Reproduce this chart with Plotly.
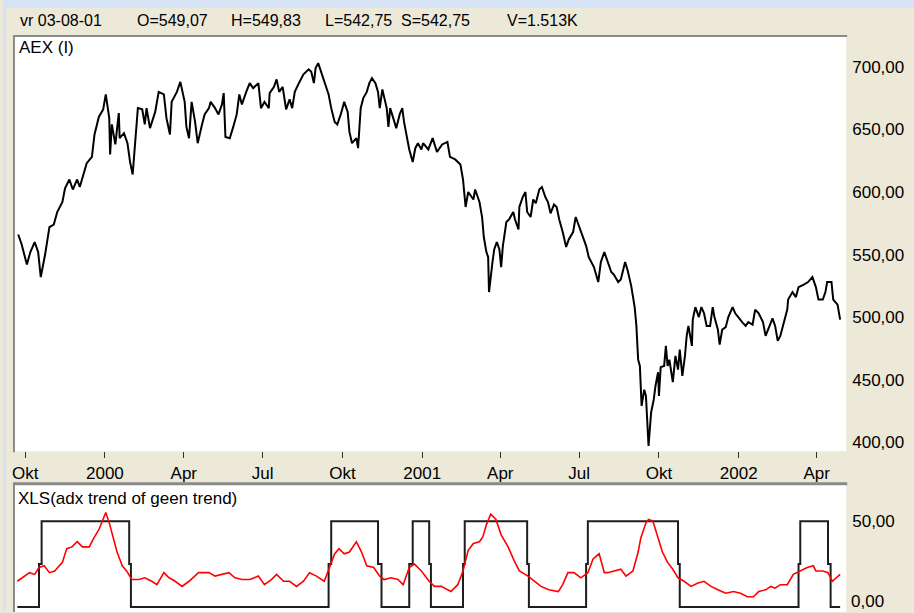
import plotly.graph_objects as go

# ---------------- data ----------------
aex_dates = [
    "1999-09-23", "1999-09-27", "1999-10-03", "1999-10-07", "1999-10-12", "1999-10-16", "1999-10-19",
    "1999-10-24", "1999-10-29", "1999-11-03", "1999-11-07", "1999-11-13", "1999-11-16", "1999-11-21",
    "1999-11-25", "1999-11-30", "1999-12-03", "1999-12-08", "1999-12-11", "1999-12-17", "1999-12-20",
    "1999-12-25", "1999-12-30", "2000-01-02", "2000-01-06", "2000-01-07", "2000-01-09", "2000-01-13",
    "2000-01-17", "2000-01-18", "2000-01-23", "2000-01-27", "2000-01-30", "2000-02-02", "2000-02-05",
    "2000-02-08", "2000-02-13", "2000-02-16", "2000-02-18", "2000-02-22", "2000-02-28", "2000-03-03",
    "2000-03-09", "2000-03-12", "2000-03-16", "2000-03-18", "2000-03-24", "2000-03-28", "2000-04-02",
    "2000-04-04", "2000-04-07", "2000-04-10", "2000-04-14", "2000-04-17", "2000-04-22", "2000-04-25",
    "2000-04-30", "2000-05-02", "2000-05-07", "2000-05-11", "2000-05-15", "2000-05-17", "2000-05-19",
    "2000-05-24", "2000-05-28", "2000-06-01", "2000-06-04", "2000-06-07", "2000-06-12", "2000-06-16",
    "2000-06-20", "2000-06-26", "2000-06-29", "2000-07-03", "2000-07-08", "2000-07-09", "2000-07-14",
    "2000-07-17", "2000-07-20", "2000-07-24", "2000-07-28", "2000-08-01", "2000-08-04", "2000-08-07",
    "2000-08-11", "2000-08-17", "2000-08-23", "2000-08-26", "2000-08-29", "2000-08-31", "2000-09-03",
    "2000-09-07", "2000-09-10", "2000-09-15", "2000-09-18", "2000-09-22", "2000-09-25", "2000-09-29",
    "2000-10-03", "2000-10-07", "2000-10-09", "2000-10-12", "2000-10-17", "2000-10-19", "2000-10-22",
    "2000-10-25", "2000-10-29", "2000-11-01", "2000-11-04", "2000-11-08", "2000-11-11", "2000-11-13",
    "2000-11-16", "2000-11-21", "2000-11-23", "2000-11-25", "2000-11-29", "2000-12-02", "2000-12-06",
    "2000-12-09", "2000-12-11", "2000-12-15", "2000-12-17", "2000-12-21", "2000-12-24", "2000-12-27",
    "2000-12-31", "2001-01-02", "2001-01-08", "2001-01-13", "2001-01-18", "2001-01-24", "2001-01-30",
    "2001-02-02", "2001-02-08", "2001-02-14", "2001-02-17", "2001-02-20", "2001-02-23", "2001-03-01",
    "2001-03-03", "2001-03-08", "2001-03-11", "2001-03-13", "2001-03-16", "2001-03-18", "2001-03-19",
    "2001-03-23", "2001-03-25", "2001-03-28", "2001-03-31", "2001-04-02", "2001-04-04", "2001-04-08",
    "2001-04-11", "2001-04-16", "2001-04-18", "2001-04-22", "2001-04-23", "2001-04-27", "2001-04-30",
    "2001-05-02", "2001-05-06", "2001-05-09", "2001-05-12", "2001-05-16", "2001-05-19", "2001-05-23",
    "2001-05-26", "2001-05-29", "2001-06-02", "2001-06-05", "2001-06-08", "2001-06-12", "2001-06-16",
    "2001-06-19", "2001-06-24", "2001-06-27", "2001-07-01", "2001-07-05", "2001-07-09", "2001-07-12",
    "2001-07-18", "2001-07-23", "2001-07-26", "2001-07-30", "2001-08-03", "2001-08-07", "2001-08-10",
    "2001-08-15", "2001-08-18", "2001-08-23", "2001-08-26", "2001-08-30", "2001-09-03", "2001-09-05",
    "2001-09-07", "2001-09-09", "2001-09-11", "2001-09-14", "2001-09-16", "2001-09-17", "2001-09-19",
    "2001-09-22", "2001-09-25", "2001-09-27", "2001-09-30", "2001-10-01", "2001-10-03", "2001-10-07",
    "2001-10-09", "2001-10-11", "2001-10-13", "2001-10-17", "2001-10-20", "2001-10-23", "2001-10-25",
    "2001-10-28", "2001-10-31", "2001-11-02", "2001-11-04", "2001-11-08", "2001-11-09", "2001-11-12",
    "2001-11-16", "2001-11-19", "2001-11-22", "2001-11-25", "2001-11-29", "2001-12-02", "2001-12-04",
    "2001-12-08", "2001-12-10", "2001-12-13", "2001-12-17", "2001-12-20", "2001-12-25", "2001-12-28",
    "2002-01-01", "2002-01-05", "2002-01-09", "2002-01-12", "2002-01-17", "2002-01-20", "2002-01-24",
    "2002-01-29", "2002-02-01", "2002-02-04", "2002-02-09", "2002-02-12", "2002-02-15", "2002-02-18",
    "2002-02-22", "2002-02-26", "2002-02-27", "2002-03-04", "2002-03-08", "2002-03-11", "2002-03-17",
    "2002-03-22", "2002-03-27", "2002-03-31", "2002-04-03", "2002-04-08", "2002-04-11", "2002-04-13",
    "2002-04-18", "2002-04-20", "2002-04-25", "2002-04-28",
]
aex_close = [
    566, 558, 542, 552, 560, 552, 532,
    550, 572, 574, 584, 592, 603, 610,
    602, 610, 604, 616, 623, 628, 646,
    660, 666, 678, 659, 630, 654, 638,
    663, 643, 647, 639, 624, 614, 640,
    667, 666, 654, 667, 651, 664, 680,
    678, 659, 646, 672, 680, 688, 672,
    652, 643, 672, 656, 639, 654, 662,
    667, 672, 667, 662, 670, 679, 644,
    643, 652, 662, 678, 670, 680, 687,
    683, 687, 667, 672, 667, 679, 684,
    690, 680, 684, 666, 674, 667, 680,
    686, 694, 698, 696, 687, 699, 703,
    695, 688, 678, 667, 656, 654, 662,
    672, 664, 648, 639, 643, 635, 667,
    675, 680, 687, 691, 687, 680, 667,
    682, 667, 652, 667, 658, 651, 662,
    667, 656, 643, 634, 624, 635, 639,
    634, 639, 634, 643, 632, 638, 640,
    628, 626, 622, 610, 588, 600, 594,
    602, 592, 580, 564, 552, 548, 520,
    544, 554, 560, 554, 540, 557, 576,
    578, 584, 578, 570, 588, 596, 600,
    584, 580, 594, 591, 602, 604, 596,
    592, 583, 590, 588, 578, 568, 556,
    562, 568, 580, 572, 564, 557, 548,
    540, 528, 544, 552, 543, 536, 534,
    528, 530, 544, 537, 525, 508, 493,
    466, 461, 429, 442, 437, 424, 397,
    424, 434, 445, 456, 437, 460, 461,
    477, 461, 466, 448, 469, 458, 474,
    453, 469, 485, 493, 477, 498, 508,
    500, 508, 503, 493, 493, 508, 500,
    490, 478, 490, 492, 500, 508, 503,
    499, 496, 493, 496, 494, 506, 503,
    496, 485, 490, 499, 493, 481, 485,
    496, 506, 514, 520, 516, 524, 526,
    528, 532, 524, 514, 514, 520, 528,
    528, 514, 510, 498,
]

adx_dates = [
    "1999-09-22", "1999-10-06", "1999-10-12", "1999-10-17", "1999-10-23", "1999-10-29", "1999-11-04",
    "1999-11-13", "1999-11-18", "1999-11-24", "1999-11-30", "1999-12-06", "1999-12-14", "1999-12-19",
    "1999-12-25", "1999-12-29", "2000-01-02", "2000-01-06", "2000-01-11", "2000-01-15", "2000-01-21",
    "2000-01-26", "2000-02-01", "2000-02-09", "2000-02-16", "2000-02-24", "2000-03-01", "2000-03-09",
    "2000-03-15", "2000-03-22", "2000-03-30", "2000-04-07", "2000-04-18", "2000-04-30", "2000-05-07",
    "2000-05-15", "2000-05-23", "2000-05-30", "2000-06-07", "2000-06-16", "2000-06-26", "2000-07-03",
    "2000-07-11", "2000-07-17", "2000-07-25", "2000-08-01", "2000-08-09", "2000-08-17", "2000-08-24",
    "2000-09-01", "2000-09-10", "2000-09-16", "2000-09-22", "2000-09-27", "2000-10-03", "2000-10-09",
    "2000-10-17", "2000-10-23", "2000-10-29", "2000-11-06", "2000-11-13", "2000-11-18", "2000-11-26",
    "2000-12-04", "2000-12-10", "2000-12-17", "2000-12-23", "2000-12-31", "2001-01-09", "2001-01-15",
    "2001-01-23", "2001-02-03", "2001-02-11", "2001-02-17", "2001-02-23", "2001-03-01", "2001-03-08",
    "2001-03-12", "2001-03-16", "2001-03-21", "2001-03-27", "2001-04-02", "2001-04-10", "2001-04-17",
    "2001-04-23", "2001-05-03", "2001-05-10", "2001-05-18", "2001-05-27", "2001-06-07", "2001-06-12",
    "2001-06-18", "2001-06-25", "2001-07-03", "2001-07-11", "2001-07-17", "2001-07-24", "2001-07-30",
    "2001-08-03", "2001-08-18", "2001-08-24", "2001-09-01", "2001-09-07", "2001-09-10", "2001-09-16",
    "2001-09-19", "2001-09-24", "2001-09-30", "2001-10-05", "2001-10-11", "2001-10-17", "2001-10-23",
    "2001-10-30", "2001-11-07", "2001-11-15", "2001-11-22", "2001-11-30", "2001-12-08", "2001-12-17",
    "2001-12-26", "2002-01-03", "2002-01-11", "2002-01-18", "2002-01-24", "2002-02-01", "2002-02-07",
    "2002-02-12", "2002-02-18", "2002-02-26", "2002-03-05", "2002-03-13", "2002-03-21", "2002-03-28",
    "2002-03-31", "2002-04-08", "2002-04-14", "2002-04-19", "2002-04-25", "2002-04-28",
]
adx_values = [
    15, 20, 19, 23, 24, 20, 21,
    26, 34, 35, 38, 35, 35, 40,
    45, 50, 55, 49, 40, 32, 24,
    21, 16, 16, 17, 15, 13, 20,
    17, 15, 12, 15, 20, 20, 18,
    19, 20, 17, 16, 16, 18, 13,
    16, 19, 15, 15, 12, 15, 20,
    18, 15, 23, 31, 34, 31, 32,
    38, 32, 24, 23, 18, 16, 17,
    16, 13, 23, 25, 21, 15, 12,
    12, 9, 13, 21, 33, 37, 38,
    41, 48, 54, 51, 42, 35, 27,
    21, 18, 15, 12, 10, 9, 13,
    20, 20, 17, 20, 28, 31, 20,
    20, 22, 18, 21, 32, 40, 49,
    51, 50, 40, 32, 26, 22, 17,
    15, 12, 14, 15, 12, 10, 8,
    9, 8, 6, 6, 9, 10, 12,
    11, 13, 13, 19, 21, 23, 24,
    21, 21, 20, 15, 18, 19,
]

trend_dates = [
    "1999-09-22", "1999-10-17", "1999-10-20", "2000-01-29", "2000-01-31", "2000-09-15", "2000-09-18",
    "2000-11-11", "2000-11-15", "2000-12-17", "2000-12-21", "2001-01-09", "2001-01-11", "2001-02-17",
    "2001-02-19", "2001-05-02", "2001-05-04", "2001-07-09", "2001-07-11", "2001-10-23", "2001-10-25",
    "2002-03-11", "2002-03-13", "2002-04-14", "2002-04-17", "2002-04-28",
]
trend_values = [
    0, 25, 50, 25, 0, 25, 50,
    25, 0, 25, 50, 25, 0, 25,
    50, 25, 0, 25, 50, 25, 0,
    25, 50, 25, 0, 0,
]

price_ticks = [400, 450, 500, 550, 600, 650, 700]
price_labels = ["400,00", "450,00", "500,00", "550,00", "600,00", "650,00", "700,00"]
adx_ticks = [50]
adx_labels = ["50,00"]
adx_zero_label = "0,00"
month_ticks = ["1999-10-01", "2000-01-01", "2000-04-01", "2000-07-01", "2000-10-01", "2001-01-01",
               "2001-04-01", "2001-07-01", "2001-10-01", "2002-01-01", "2002-04-01"]
month_labels = ["Okt", "2000", "Apr", "Jul", "Okt", "2001", "Apr", "Jul", "Okt", "2002", "Apr"]

header_parts = ["vr 03-08-01", "O=549,07", "H=549,83", "L=542,75", "S=542,75", "V=1.513K"]
header_x_px = [15, 132, 227, 321, 397, 504]

# ---------------- layout helpers ----------------
W, H = 914, 613
BEIGE = "#ece9d8"
BLUE = "#d5e3f4"
FONT = "Liberation Sans"


def fx(px):
    return px / W


def fy(py):
    return 1 - py / H


fig = go.Figure()
fig.add_trace(go.Scatter(x=aex_dates, y=aex_close, mode="lines",
                         line=dict(color="#000000", width=2), xaxis="x", yaxis="y",
                         hoverinfo="skip"))
fig.add_trace(go.Scatter(x=trend_dates, y=trend_values, mode="lines",
                         line=dict(color="#1e1e1e", width=2, shape="hv"),
                         xaxis="x2", yaxis="y2", hoverinfo="skip"))
fig.add_trace(go.Scatter(x=adx_dates, y=adx_values, mode="lines",
                         line=dict(color="#ff0000", width=1.6),
                         xaxis="x2", yaxis="y2", hoverinfo="skip"))

xdom = [fx(12), fx(846)]
xrange = ["1999-09-19 06:00", "2002-05-05"]

annotations = []
for txt, px in zip(header_parts, header_x_px):
    annotations.append(dict(text=txt, x=fx(px), y=fy(21), xref="paper", yref="paper",
                            xanchor="left", yanchor="middle", showarrow=False,
                            font=dict(family=FONT, size=16, color="#000000")))
annotations.append(dict(text="AEX (I)", x=fx(14), y=fy(48), xref="paper", yref="paper",
                        xanchor="left", yanchor="middle", showarrow=False,
                        font=dict(family=FONT, size=17, color="#000000")))
annotations.append(dict(text="XLS(adx trend of geen trend)", x=fx(13), y=fy(499), xref="paper",
                        yref="paper", xanchor="left", yanchor="middle", showarrow=False,
                        font=dict(family=FONT, size=17, color="#000000")))
# bottom tick label of the indicator axis, kept inside the page
annotations.append(dict(text=adx_zero_label, x=fx(850), y=0, xref="paper", yref="paper",
                        xanchor="left", yanchor="bottom", showarrow=False, borderpad=0,
                        font=dict(family=FONT, size=17, color="#000000")))

shapes = [
    # light blue window strips
    dict(type="rect", xref="paper", yref="paper", x0=0, x1=1, y0=fy(8), y1=1,
         fillcolor=BLUE, line=dict(width=0), layer="below"),
    dict(type="rect", xref="paper", yref="paper", x0=0, x1=fx(3), y0=0, y1=fy(8),
         fillcolor=BLUE, line=dict(width=0), layer="below"),
    # sunken panel borders
    dict(type="line", xref="paper", yref="paper", x0=fx(10), x1=fx(847), y0=fy(36), y1=fy(36),
         line=dict(color="#8a8a8a", width=2)),
    dict(type="line", xref="paper", yref="paper", x0=fx(11), x1=fx(11), y0=fy(36), y1=fy(453),
         line=dict(color="#8a8a8a", width=2)),
    dict(type="line", xref="paper", yref="paper", x0=fx(10), x1=fx(847), y0=fy(484.5), y1=fy(484.5),
         line=dict(color="#8a8a8a", width=3)),
    dict(type="line", xref="paper", yref="paper", x0=fx(11), x1=fx(11), y0=fy(484), y1=0,
         line=dict(color="#8a8a8a", width=2)),
]

fig.update_layout(
    width=W, height=H,
    margin=dict(l=0, r=0, t=0, b=0),
    paper_bgcolor=BEIGE, plot_bgcolor="#ffffff",
    showlegend=False,
    font=dict(family=FONT, size=17, color="#000000"),
    xaxis=dict(domain=xdom, anchor="y", type="date", range=xrange,
               tickmode="array", tickvals=month_ticks, ticktext=month_labels,
               ticks="outside", ticklen=6, tickwidth=1, tickcolor="#303030",
               showgrid=False, zeroline=False, showline=False,
               tickfont=dict(family=FONT, size=17, color="#000000")),
    yaxis=dict(domain=[fy(452), fy(37)], anchor="x", side="right", range=[392.8, 723.9],
               tickmode="array", tickvals=price_ticks, ticktext=price_labels,
               ticks="", showgrid=False, zeroline=False, showline=False,
               ticklabelstandoff=5,
               tickfont=dict(family=FONT, size=17, color="#000000")),
    xaxis2=dict(domain=xdom, anchor="y2", type="date", range=xrange, matches="x",
                showticklabels=False, ticks="", showgrid=False, zeroline=False, showline=False),
    yaxis2=dict(domain=[0, fy(485)], anchor="x2", side="right", range=[-2.9, 71.5],
                tickmode="array", tickvals=adx_ticks, ticktext=adx_labels,
                ticks="", showgrid=False, zeroline=False, showline=False,
                ticklabelstandoff=5,
                tickfont=dict(family=FONT, size=17, color="#000000")),
    annotations=annotations,
    shapes=shapes,
)

fig.write_html(
    "out.html",
    config={"displayModeBar": False},
    post_script="document.body.style.margin='0';document.body.style.overflow='hidden';",
)
